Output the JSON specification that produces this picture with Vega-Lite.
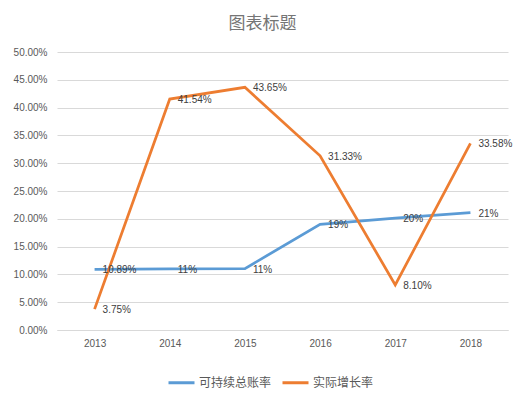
{
  "$schema": "https://vega.github.io/schema/vega-lite/v6.json",
  "width": 451,
  "height": 278,
  "autosize": {"type": "none"},
  "padding": {"left": 57, "top": 52, "right": 19, "bottom": 66},
  "background": "white",
  "config": {"view": {"stroke": null}},
  "title": {"text": "图表标题", "fontSize": 17, "font": "Noto Sans CJK SC", "color": "#757575", "fontWeight": "normal", "offset": 14, "dx": -20},
  "data": {
    "values": [
      {"year": "2013", "series": "可持续总账率", "value": 0.1089, "label": "10.89%"},
      {"year": "2014", "series": "可持续总账率", "value": 0.110, "label": "11%"},
      {"year": "2015", "series": "可持续总账率", "value": 0.1105, "label": "11%"},
      {"year": "2016", "series": "可持续总账率", "value": 0.190, "label": "19%"},
      {"year": "2017", "series": "可持续总账率", "value": 0.201, "label": "20%"},
      {"year": "2018", "series": "可持续总账率", "value": 0.211, "label": "21%"},
      {"year": "2013", "series": "实际增长率", "value": 0.0375, "label": "3.75%"},
      {"year": "2014", "series": "实际增长率", "value": 0.4154, "label": "41.54%"},
      {"year": "2015", "series": "实际增长率", "value": 0.4365, "label": "43.65%"},
      {"year": "2016", "series": "实际增长率", "value": 0.3133, "label": "31.33%"},
      {"year": "2017", "series": "实际增长率", "value": 0.081, "label": "8.10%"},
      {"year": "2018", "series": "实际增长率", "value": 0.3358, "label": "33.58%"}
    ]
  },
  "encoding": {
    "x": {"field": "year", "type": "ordinal", "scale": {"padding": 0.5},
      "axis": {"title": null, "labelAngle": 0, "ticks": false, "domainColor": "#d9d9d9", "labelColor": "#595959", "labelFontSize": 10, "labelFont": "Liberation Sans", "labelPadding": 8}},
    "y": {"field": "value", "type": "quantitative", "scale": {"domain": [0, 0.5], "nice": false},
      "axis": {"title": null, "format": ".2%", "values": [0,0.05,0.1,0.15,0.2,0.25,0.3,0.35,0.4,0.45,0.5], "labelOverlap": false, "ticks": false, "domain": false, "gridColor": "#d9d9d9", "labelColor": "#595959", "labelFontSize": 10, "labelFont": "Liberation Sans", "labelPadding": 10}},
    "color": {"field": "series", "type": "nominal", "sort": ["可持续总账率", "实际增长率"],
      "scale": {"domain": ["可持续总账率", "实际增长率"], "range": ["#5b9bd5", "#ed7d31"]},
      "legend": {"title": null, "orient": "none", "direction": "horizontal", "legendX": 110, "legendY": 316, "symbolType": "stroke", "symbolStrokeWidth": 3, "symbolSize": 676, "labelFont": "Noto Sans CJK SC", "labelFontSize": 12, "labelColor": "#595959", "labelOffset": 3, "columnPadding": 4}}
  },
  "layer": [
    {"mark": {"type": "line", "strokeWidth": 2.75}},
    {"mark": {"type": "text", "align": "left", "baseline": "middle", "dx": 8, "dy": 1, "fontSize": 10, "font": "Liberation Sans"},
     "encoding": {"text": {"field": "label"}, "color": {"value": "#404040"}}}
  ]
}
